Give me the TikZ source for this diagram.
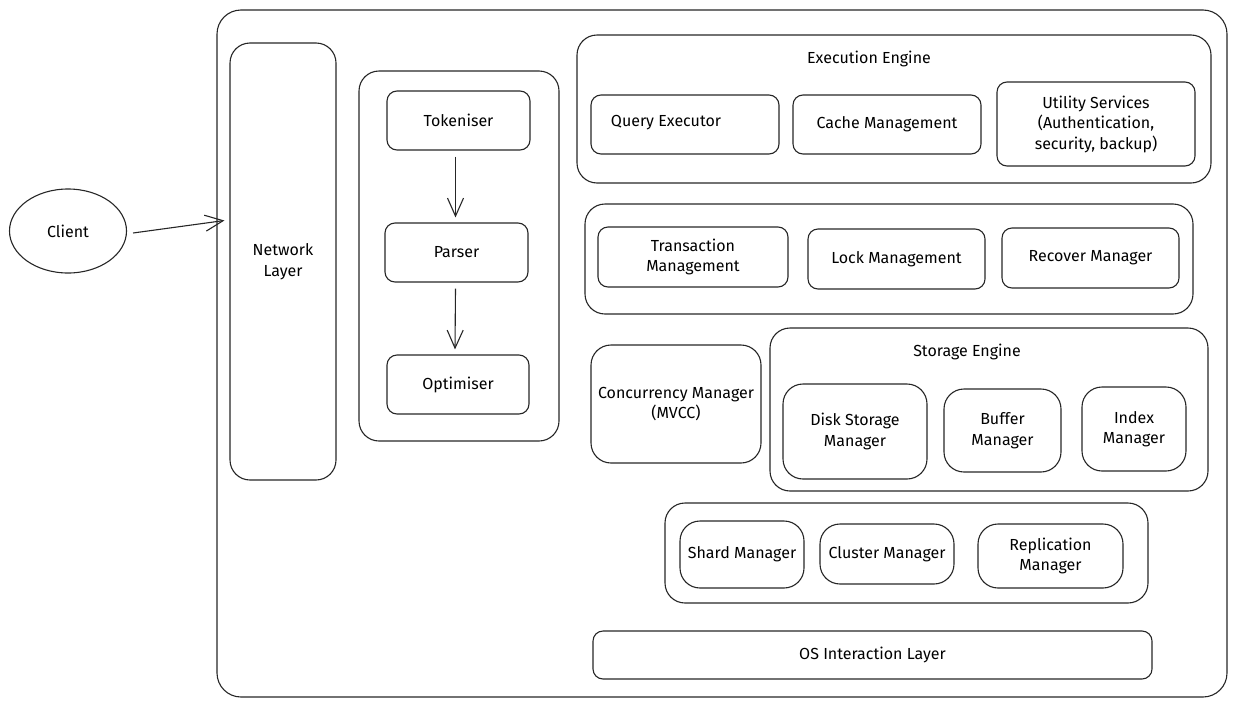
\documentclass[tikz,border=0pt]{standalone}
\usepackage{fontspec}
\setmainfont{Fira Sans}
\usetikzlibrary{arrows.meta,shapes.geometric}
\newcommand{\bx}[7][box]{%
  \node[#1, minimum width={(#5-#3)*1pt}, minimum height={(#6-#4)*1pt}]
    (#2) at ({(#3+#5)/2},{(#4+#6)/2}) {#7};}
\tikzset{
  base/.style={draw=black!85, line width=1.1pt, inner sep=0pt, align=center,
    font=\fontsize{16}{20.5}\selectfont},
  box/.style={base, rounded corners=10pt},
  grp/.style={base, rounded corners=20pt},
  outer/.style={base, rounded corners=24pt},
  lbl/.style={font=\fontsize{16}{20.5}\selectfont, inner sep=0pt, align=center},
  arr/.style={draw=black!85, line width=1.1pt, -{Straight Barb[length=18pt,width=16pt,line width=1.1pt]}}
}
\begin{document}
\begin{tikzpicture}[x=1pt,y=-1pt]
\useasboundingbox (0,0) rectangle (1236,707);
% outer container
\bx[outer]{sys}{217}{10}{1227}{697}{}
% client
\node[base, ellipse, minimum width=117pt, minimum height=84pt] (client) at (68,231) {Client};
% network layer
\bx[grp]{net}{230}{43}{336}{480}{Network\\Layer}
% query processing group
\bx[grp]{qp}{359}{71}{559}{441}{}
\bx{tok}{387}{91}{530}{150}{Tokeniser}
\bx{par}{385}{223}{528}{282}{Parser}
\bx{opt}{387}{355}{529}{414}{Optimiser}
% execution engine
\bx[grp]{exe}{577}{35}{1211}{183}{}
\node[lbl] (exet) at (869,59) {Execution Engine};
\bx{qe}{591}{95}{779}{154}{}
\node[lbl] (qet) at (666,123) {Query Executor};
\bx{cm}{793}{95}{981}{154}{Cache Management}
\bx{us}{997}{82}{1195}{166}{Utility Services\\(Authentication,\\security, backup)}
% transaction group
\bx[grp]{trg}{585}{204}{1193}{314}{}
\bx{tm}{598}{227}{788}{287}{Transaction\\Management}
\bx{lm}{808}{229}{985}{289}{Lock Management}
\bx{rm}{1002}{228}{1179}{288}{Recover Manager}
% concurrency
\bx[grp]{cc}{591}{345}{761}{463}{Concurrency Manager\\(MVCC)}
% storage engine
\bx[grp]{se}{770}{328}{1208}{491}{}
\node[lbl] (set) at (967,352) {Storage Engine};
\bx[grp]{dsm}{783}{384}{927}{479}{Disk Storage\\Manager}
\bx[grp]{bm}{944}{389}{1061}{472}{Buffer\\Manager}
\bx[grp]{im}{1082}{387}{1186}{471}{Index\\Manager}
% distribution group
\bx[grp]{dg}{665}{503}{1148}{603}{}
\bx[grp]{sm}{680}{521}{804}{588}{Shard Manager}
\bx[grp]{clm}{820}{524}{954}{584}{Cluster Manager}
\bx[grp]{rpm}{978}{524}{1123}{588}{Replication\\Manager}
% OS layer
\bx{os}{593}{631}{1152}{679}{OS Interaction Layer}
% connectors
\draw[arr] ([xshift=6pt,yshift=-2pt]client.east) -- ([xshift=-5pt,yshift=41pt]net.west);
\draw[arr] ([xshift=-3pt,yshift=-6pt]tok.south) -- ([xshift=-1pt,yshift=5pt]par.north);
\draw[arr] ([xshift=-1pt,yshift=-6pt]par.south) -- ([xshift=-3pt,yshift=5pt]opt.north);
\end{tikzpicture}
\end{document}
